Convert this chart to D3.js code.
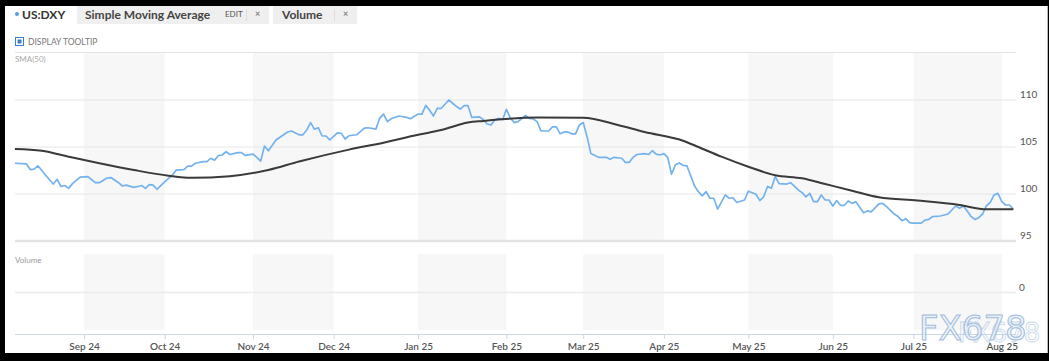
<!DOCTYPE html>
<html>
<head>
<meta charset="utf-8">
<script src="https://cdn.jsdelivr.net/npm/d3@7"></script>
<style>
  body { margin: 0; background: #000; }
  svg { display: block; font-family: Lato, "Open Sans", sans-serif; }
</style>
</head>
<body>
<svg width="1049" height="361"></svg>
<script>
// US Dollar Index daily close
var dxy = [
  ["2024-08-07",103.27],["2024-08-12",103.2],["2024-08-13",102.6],["2024-08-14",102.65],["2024-08-15",103.0],
  ["2024-08-19",102.0],["2024-08-21",101.06],["2024-08-22",101.56],["2024-08-23",100.8],["2024-08-26",100.9],
  ["2024-08-27",100.6],["2024-08-28",101.1],["2024-08-30",101.8],["2024-09-03",101.85],["2024-09-05",101.2],
  ["2024-09-06",101.2],["2024-09-10",101.7],["2024-09-11",101.75],["2024-09-13",101.2],["2024-09-16",100.85],
  ["2024-09-17",100.95],["2024-09-19",100.7],["2024-09-20",100.8],["2024-09-23",100.9],["2024-09-24",100.6],
  ["2024-09-25",101.0],["2024-09-26",100.95],["2024-09-27",100.5],["2024-10-01",101.3],["2024-10-03",102.0],
  ["2024-10-04",102.55],["2024-10-08",102.6],["2024-10-09",102.97],["2024-10-10",102.97],["2024-10-11",103.27],
  ["2024-10-15",103.45],["2024-10-16",103.45],["2024-10-17",103.8],["2024-10-18",103.6],["2024-10-21",104.1],
  ["2024-10-22",104.15],["2024-10-23",104.5],["2024-10-24",104.2],["2024-10-28",104.4],["2024-10-29",104.4],
  ["2024-10-30",104.1],["2024-11-01",104.25],["2024-11-04",103.9],["2024-11-05",103.5],["2024-11-06",105.1],
  ["2024-11-07",104.6],["2024-11-11",105.75],["2024-11-14",106.6],["2024-11-15",106.7],["2024-11-19",106.3],
  ["2024-11-20",106.3],["2024-11-21",106.8],["2024-11-22",107.6],["2024-11-25",106.9],["2024-11-26",107.05],
  ["2024-11-27",106.17],["2024-11-28",106.17],["2024-11-29",105.75],["2024-12-03",106.5],["2024-12-04",106.45],
  ["2024-12-05",105.85],["2024-12-06",106.2],["2024-12-10",106.3],["2024-12-12",107.0],["2024-12-13",107.05],
  ["2024-12-17",106.9],["2024-12-18",108.05],["2024-12-19",108.5],["2024-12-20",107.7],["2024-12-23",108.0],
  ["2024-12-25",108.3],["2024-12-27",108.15],["2024-12-30",108.0],["2025-01-01",108.5],["2025-01-02",108.5],
  ["2025-01-03",109.43],["2025-01-06",108.9],["2025-01-07",108.3],["2025-01-08",109.1],["2025-01-09",109.1],
  ["2025-01-13",110.0],["2025-01-15",109.3],["2025-01-16",109.04],["2025-01-17",109.4],["2025-01-20",109.4],
  ["2025-01-21",108.15],["2025-01-23",108.2],["2025-01-24",107.9],["2025-01-27",107.45],["2025-01-28",107.35],
  ["2025-01-29",107.9],["2025-01-30",108.05],["2025-01-31",107.9],["2025-02-03",109.0],["2025-02-04",108.1],
  ["2025-02-05",107.6],["2025-02-06",107.7],["2025-02-10",108.35],["2025-02-11",108.05],["2025-02-12",107.98],
  ["2025-02-13",107.7],["2025-02-14",106.7],["2025-02-18",106.7],["2025-02-19",107.15],["2025-02-20",107.15],
  ["2025-02-21",106.4],["2025-02-24",106.6],["2025-02-25",106.6],["2025-02-26",106.4],["2025-02-27",106.4],
  ["2025-02-28",107.35],["2025-03-03",107.6],["2025-03-04",106.1],["2025-03-05",104.3],["2025-03-07",103.9],
  ["2025-03-11",103.9],["2025-03-12",103.7],["2025-03-13",103.9],["2025-03-17",103.8],["2025-03-18",103.37],
  ["2025-03-19",103.37],["2025-03-20",103.9],["2025-03-21",104.2],["2025-03-25",104.3],["2025-03-26",104.2],
  ["2025-03-27",104.6],["2025-03-28",104.25],["2025-03-31",104.15],["2025-04-01",104.3],["2025-04-02",103.9],
  ["2025-04-03",102.1],["2025-04-04",103.1],["2025-04-07",103.3],["2025-04-08",103.05],["2025-04-09",103.0],
  ["2025-04-11",100.85],["2025-04-14",100.25],["2025-04-15",99.8],["2025-04-16",100.25],["2025-04-17",99.55],
  ["2025-04-18",99.55],["2025-04-21",98.4],["2025-04-23",99.9],["2025-04-24",99.55],["2025-04-25",99.6],
  ["2025-04-28",99.1],["2025-04-30",99.36],["2025-05-01",100.3],["2025-05-05",99.97],["2025-05-06",99.3],
  ["2025-05-07",99.7],["2025-05-08",100.8],["2025-05-09",100.6],["2025-05-12",101.85],["2025-05-13",101.1],
  ["2025-05-15",101.06],["2025-05-16",101.2],["2025-05-20",100.43],["2025-05-21",100.15],["2025-05-22",99.7],
  ["2025-05-23",100.07],["2025-05-26",99.18],["2025-05-27",99.18],["2025-05-28",99.9],["2025-05-29",99.36],
  ["2025-05-30",99.36],["2025-06-02",98.72],["2025-06-03",99.3],["2025-06-04",98.8],["2025-06-05",98.8],
  ["2025-06-06",99.26],["2025-06-09",99.0],["2025-06-10",99.18],["2025-06-12",98.0],["2025-06-13",98.2],
  ["2025-06-16",98.1],["2025-06-18",98.94],["2025-06-19",99.0],["2025-06-20",98.65],["2025-06-24",97.87],
  ["2025-06-25",97.6],["2025-06-26",97.16],["2025-06-27",97.38],["2025-06-30",96.95],["2025-07-01",96.9],
  ["2025-07-03",96.9],["2025-07-04",97.23],["2025-07-07",97.3],["2025-07-08",97.6],["2025-07-10",97.66],
  ["2025-07-14",97.87],["2025-07-15",98.3],["2025-07-16",98.72],["2025-07-17",98.48],["2025-07-18",98.72],
  ["2025-07-21",98.2],["2025-07-22",97.6],["2025-07-23",97.3],["2025-07-24",97.48],["2025-07-25",97.87],
  ["2025-07-28",98.75],["2025-07-29",99.1],["2025-07-30",99.9],["2025-07-31",100.07],["2025-08-01",99.18],
  ["2025-08-04",98.83],["2025-08-05",98.83],["2025-08-06",98.4]
];

// SMA(50)
var sma = [
  ["2024-08-07",104.8],["2024-08-16",104.6],["2024-08-27",103.97],["2024-09-06",103.27],["2024-09-19",102.55],
  ["2024-10-02",101.95],["2024-10-10",101.73],["2024-10-24",101.9],["2024-11-07",102.55],["2024-11-19",103.45],
  ["2024-12-06",104.72],["2024-12-19",105.46],["2025-01-01",106.3],["2025-01-09",106.8],["2025-01-20",107.6],
  ["2025-01-24",107.77],["2025-01-30",107.92],["2025-02-13",108.15],["2025-03-03",108.1],["2025-03-14",107.35],
  ["2025-03-25",106.6],["2025-04-08",105.67],["2025-04-14",105.0],["2025-04-22",103.97],["2025-05-01",102.9],
  ["2025-05-12",102.0],["2025-05-21",101.67],["2025-05-29",101.06],["2025-06-09",100.35],["2025-06-18",99.65],
  ["2025-07-02",99.3],["2025-07-17",98.83],["2025-07-28",98.37],["2025-08-06",98.37]
];

var priceTicks = [95, 100, 105, 110];
var volumeTicks = [0];
var monthLabels = ["Sep 24","Oct 24","Nov 24","Dec 24","Jan 25","Feb 25","Mar 25","Apr 25","May 25","Jun 25","Jul 25","Aug 25"];

var fmt = d3.timeFormat("%Y-%m-%d");

// trading days (weekdays) on the axis
var days = d3.timeDay.range(new Date(2024, 7, 7), new Date(2025, 7, 7)).filter(d => d.getDay() % 6 != 0);
var dayIndex = {};
days.forEach((d, i) => dayIndex[fmt(d)] = i);

// first trading day of each month from Sep 24
var monthStarts = [];
days.forEach((d, i) => {
  if (i > 0 && d.getMonth() != days[i - 1].getMonth()) monthStarts.push(i);
});

var left = 15, right = 1016;
var xScale = d3.scaleLinear().domain([0, days.length - 1]).range([14.9, 1013.3]);
var yScale = d3.scaleLinear().domain([95, 110]).range([241, 100]);
var vScale = d3.scaleLinear().domain([-1, 1]).range([330, 254]);

var svg = d3.select("svg");

// frame
svg.append("rect").attr("x", 5).attr("y", 6).attr("width", 1042).attr("height", 347).attr("fill", "#fff");
svg.append("line").attr("x1", 1047.5).attr("x2", 1047.5).attr("y1", 6).attr("y2", 353)
  .attr("stroke", "#b8b8b8");

// header tabs
var head = svg.append("g");
head.append("circle").attr("cx", 17).attr("cy", 14).attr("r", 2).attr("fill", "#5b9be0");
head.append("text").attr("x", 22).attr("y", 19).text("US:DXY")
  .attr("font-size", 12).attr("font-weight", 700).attr("fill", "#333");
head.append("rect").attr("x", 77).attr("y", 6).attr("width", 192).attr("height", 18).attr("fill", "#efefef");
head.append("text").attr("x", 85).attr("y", 19).text("Simple Moving Average")
  .attr("font-size", 12).attr("font-weight", 700).attr("fill", "#444");
head.append("text").attr("x", 225).attr("y", 17).text("EDIT")
  .attr("font-size", 8).attr("fill", "#555");
head.append("line").attr("x1", 246.5).attr("x2", 246.5).attr("y1", 9).attr("y2", 21).attr("stroke", "#ddd");
head.append("text").attr("x", 255).attr("y", 17).text("×").attr("font-size", 9).attr("fill", "#666");
head.append("rect").attr("x", 273).attr("y", 6).attr("width", 84).attr("height", 18).attr("fill", "#efefef");
head.append("text").attr("x", 282).attr("y", 19).text("Volume")
  .attr("font-size", 12).attr("font-weight", 700).attr("fill", "#444");
head.append("line").attr("x1", 334.5).attr("x2", 334.5).attr("y1", 9).attr("y2", 21).attr("stroke", "#ddd");
head.append("text").attr("x", 343).attr("y", 17).text("×").attr("font-size", 9).attr("fill", "#666");

head.append("rect").attr("x", 15.5).attr("y", 37.5).attr("width", 8).attr("height", 8)
  .attr("fill", "#fff").attr("stroke", "#3d7ec8");
head.append("rect").attr("x", 17.5).attr("y", 39.5).attr("width", 4).attr("height", 4).attr("fill", "#3d7ec8");
head.append("text").attr("x", 28).attr("y", 45).text("DISPLAY TOOLTIP")
  .attr("font-size", 8.5).attr("fill", "#777");

// month shading (Sep, Nov, Jan, Mar, May, Jul)
var bands = d3.range(0, monthStarts.length - 1, 2).map(i => [monthStarts[i], monthStarts[i + 1]]);
[[53, 241], [254, 330]].forEach(p => {
  svg.append("g").selectAll("rect").data(bands).enter().append("rect")
    .attr("x", d => xScale(d[0])).attr("width", d => xScale(d[1]) - xScale(d[0]))
    .attr("y", p[0]).attr("height", p[1] - p[0]).attr("fill", "#f7f7f7");
});

// panel top line and SMA label
svg.append("line").attr("x1", left).attr("x2", right).attr("y1", 52.5).attr("y2", 52.5).attr("stroke", "#e3e3e3");
svg.append("text").attr("x", 15).attr("y", 62).text("SMA(50)").attr("font-size", 8).attr("fill", "#aaa");

// price grid
svg.append("g").selectAll("line").data(priceTicks).enter().append("line")
  .attr("x1", left).attr("x2", right)
  .attr("y1", d => yScale(d)).attr("y2", d => yScale(d))
  .attr("stroke", d => d == 95 ? "#e2e2e2" : "#e6e6e6")
  .attr("stroke-width", d => d == 95 ? 2.5 : 1);
svg.append("g").selectAll("text").data(priceTicks).enter().append("text")
  .attr("x", 1020).attr("y", d => yScale(d) - 2)
  .text(d => d).attr("font-size", 10).attr("fill", "#555");

// volume panel
svg.append("text").attr("x", 15).attr("y", 263).text("Volume").attr("font-size", 8).attr("fill", "#999");
svg.append("g").selectAll("line").data(volumeTicks).enter().append("line")
  .attr("x1", left).attr("x2", right)
  .attr("y1", d => vScale(d) + 0.5).attr("y2", d => vScale(d) + 0.5)
  .attr("stroke", "#ebebeb").attr("stroke-width", 1.5);
svg.append("g").selectAll("text").data(volumeTicks).enter().append("text")
  .attr("x", 1019).attr("y", d => vScale(d) - 1)
  .text(d => d).attr("font-size", 10).attr("fill", "#555");

// x axis
var xAxis = d3.axisBottom(xScale)
  .tickValues(monthStarts)
  .tickFormat((d, i) => monthLabels[i])
  .tickSizeInner(5).tickSizeOuter(0).tickPadding(4);
var ax = svg.append("g").attr("transform", "translate(0,334)").call(xAxis);
ax.select(".domain").attr("stroke", "#ccd6e0").attr("d", "M" + left + ",0.5H" + right);
ax.selectAll(".tick line").attr("stroke", "#ccd6e0");
ax.selectAll(".tick text").attr("font-family", "Lato, sans-serif").attr("font-size", 10)
  .attr("fill", "#555").attr("font-weight", 600);

// lines
var line = d3.line()
  .x(d => xScale(dayIndex[d[0]]))
  .y(d => yScale(d[1]));

svg.append("path").datum(dxy)
  .attr("d", line)
  .attr("fill", "none").attr("stroke", "#74b2ee").attr("stroke-width", 1.7)
  .attr("stroke-linejoin", "round");

svg.append("path").datum(sma)
  .attr("d", line.curve(d3.curveMonotoneX))
  .attr("fill", "none").attr("stroke", "#3a3a3a").attr("stroke-width", 2);

// watermark
var wm = svg.append("g").attr("font-family", "DejaVu Sans, sans-serif").attr("font-size", 34);
wm.append("text").attr("x", 958).attr("y", 342).text("FX678")
  .attr("fill", "none").attr("stroke", "#b9cde6").attr("stroke-width", 0.8).attr("opacity", 0.8)
  .attr("font-size", 26);
wm.append("text").attr("x", 919).attr("y", 340).text("FX678")
  .attr("fill", "#e2ecf7").attr("fill-opacity", 0.6).attr("stroke", "#9fbbdc").attr("stroke-width", 1);
</script>
</body>
</html>
